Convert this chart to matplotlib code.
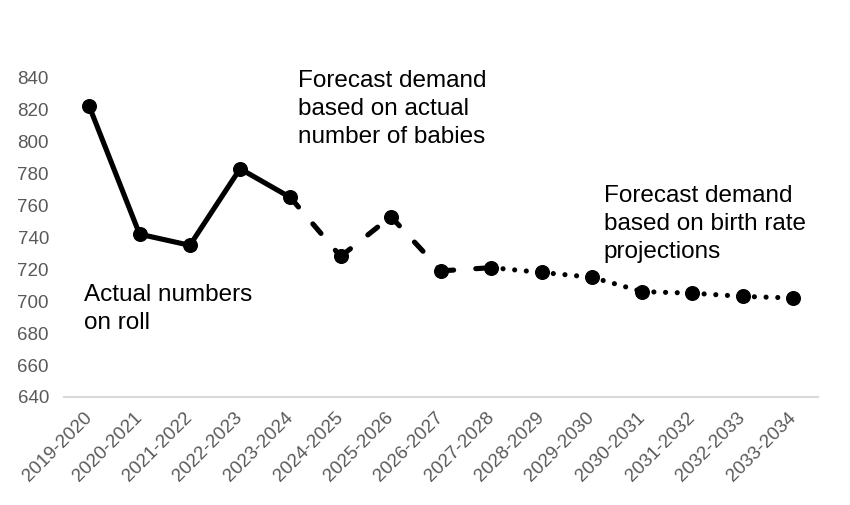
"""Pupil demand: actual numbers on roll and forecasts, 2019-2034."""

import matplotlib

matplotlib.use("Agg")
import matplotlib.pyplot as plt


YEARS = [
    "2019-2020", "2020-2021", "2021-2022", "2022-2023", "2023-2024",
    "2024-2025", "2025-2026", "2026-2027", "2027-2028", "2028-2029",
    "2029-2030", "2030-2031", "2031-2032", "2032-2033", "2033-2034",
]
DEMAND = [822, 742, 735, 783, 765, 728, 753, 719, 721, 718, 715, 706, 705, 703, 702]

# Index where each phase ends (actual -> babies-based -> birth-rate-based).
LAST_ACTUAL = 4
LAST_BABIES = 8

Y_TICKS = [640, 660, 680, 700, 720, 740, 760, 780, 800, 820, 840]

FONT = ["Liberation Sans", "DejaVu Sans"]
TICK_GREY = "#595959"
AXIS_GREY = "#d9d9d9"

plt.rcParams["font.family"] = FONT
plt.rcParams["lines.scale_dashes"] = False


def draw_segments(axis, start, stop, linestyle):
    # Excel restarts the dash pattern at every point, so draw pairwise.
    for i in range(start, stop):
        axis.plot(
            [i, i + 1],
            DEMAND[i:i + 2],
            color="black",
            linewidth=3.7,
            linestyle=linestyle,
            solid_capstyle="round",
            dash_capstyle="round",
        )


def main() -> None:
    figure = plt.figure(figsize=(8.5, 5.05), dpi=100)
    axis = figure.add_axes([0.0755, 0.214, 0.887, 0.632])

    x = list(range(len(YEARS)))

    draw_segments(axis, 0, LAST_ACTUAL, "-")
    draw_segments(axis, LAST_ACTUAL, LAST_BABIES, (0, (9, 16)))
    draw_segments(axis, LAST_BABIES, len(YEARS) - 1, (0, (0.01, 8.4)))

    axis.plot(x, DEMAND, linestyle="none", marker="o", markersize=9.8, color="black")

    axis.set_xlim(-0.5, len(YEARS) - 0.5)
    axis.set_ylim(Y_TICKS[0], Y_TICKS[-1])
    axis.set_yticks(Y_TICKS)
    axis.set_xticks(x)
    axis.set_xticklabels(YEARS, rotation=45, ha="right", va="center", rotation_mode="anchor")

    axis.tick_params(axis="both", length=0, labelsize=13.5, labelcolor=TICK_GREY)
    axis.tick_params(axis="x", pad=13)
    axis.tick_params(axis="y", pad=11)

    for side in ("top", "right", "left"):
        axis.spines[side].set_visible(False)
    axis.spines["bottom"].set_color(AXIS_GREY)
    axis.spines["bottom"].set_linewidth(1.5)

    text_style = dict(fontsize=17.5, va="top", ha="left", linespacing=1.36, color="black")
    axis.text(4.15, 845, "Forecast demand\nbased on actual\nnumber of babies", **text_style)
    axis.text(10.23, 773, "Forecast demand\nbased on birth rate\nprojections", **text_style)
    axis.text(-0.11, 711, "Actual numbers\non roll", **text_style)

    figure.savefig("out.png", dpi=100)


if __name__ == "__main__":
    main()
